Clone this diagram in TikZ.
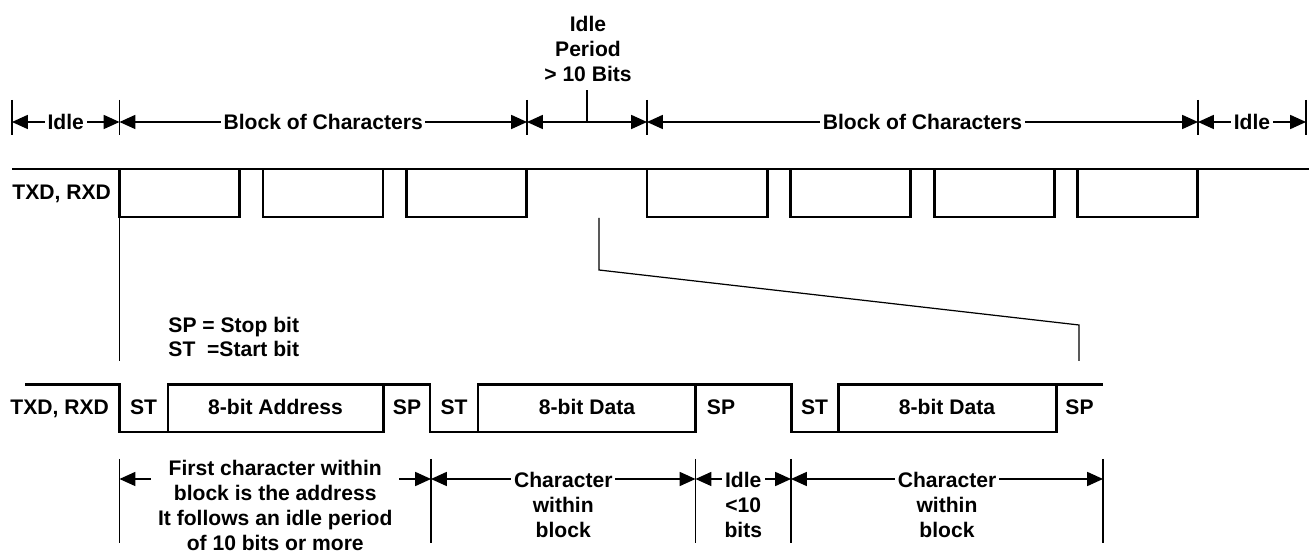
\documentclass[tikz,border=0pt]{standalone}
\usepackage{fontspec}
\setmainfont{Liberation Sans}
\usetikzlibrary{arrows.meta}
\tikzset{
  dimline/.style={line width=0.7pt, <->, >={Triangle[length=9pt,width=8pt]}},
  tickmark/.style={line width=1.1pt},
  sig/.style={line width=1.7pt},
  thinsig/.style={line width=0.7pt},
  lbl/.style={font=\fontsize{12}{14.2}\selectfont\bfseries, inner sep=1.5pt, fill=white, align=center},
}
\begin{document}
\begin{tikzpicture}[x=0.02cm, y=-0.02cm]
    \useasboundingbox (0,0) rectangle (1309,553);

    % top dimensions
    \foreach \n/\x in {a/12, b/119.5, c/527, d/647, e/1198, f/1306} {
      \draw[tickmark] (\x,100) -- (\x,135);
      \coordinate (top\n) at (\x,122);
    }
    \draw[dimline] (topa) -- (topb) node[lbl, midway] (idle1) {Idle};
    \draw[dimline] (topb) -- (topc) node[lbl, midway] (block1) {Block of Characters};
    \draw[dimline] (topc) -- (topd) coordinate[midway] (gapmid);
    \draw[dimline] (topd) -- (tope) node[lbl, midway] (block2) {Block of Characters};
    \draw[dimline] (tope) -- (topf) node[lbl, midway] (idle2) {Idle};
    \draw[tickmark] (gapmid) -- ++(0,-32) coordinate (gaptop);
    \node[lbl, anchor=north] (gaplbl) at (588,13.5) {Idle\\Period\\> 10 Bits};

    % top waveform
    \node[lbl, anchor=base west] (topsig) at (9.5,200) {TXD, RXD};
    \draw[thinsig] (12,169) -- (1309,169);
    \foreach \x in {119.5, 263, 406.5, 647, 790.5, 934, 1077.5}
      \draw[sig] (\x,169) -- (\x,217) -- (\x+120,217) -- (\x+120,169);

    % zoom lines
    \draw[thinsig] (119.5,217) -- (119.5,361);
    \draw[thinsig] (599,218) -- (599,270) -- (1079,325) -- (1079,361);

    \node[lbl, anchor=base west] (legend1) at (165.5,333) {SP = Stop bit};
    \node[lbl, anchor=base west] (legend2) at (165.5,357) {ST\ \ =Start bit};

    % bottom waveform
    \draw[sig] (25,384.5) -- (119.5,384.5) -- (119.5,432) -- (383.5,432) -- (383.5,384.5)
      -- (430,384.5) -- (430,432) -- (695.5,432) -- (695.5,384.5) -- (791,384.5)
      -- (791,432) -- (1056,432) -- (1056,384.5) -- (1103,384.5);
    \foreach \a/\b in {168/383.5, 478/695.5, 838/1056}
      \draw[sig] (\a,432) -- (\a,384.5) -- (\b,384.5);

    \node[lbl, anchor=base west] (botsig) at (7.5,415) {TXD, RXD};
    \node[lbl, anchor=base] (st1) at (143.5,415) {ST};
    \node[lbl, anchor=base] (addr) at (275.5,415) {8-bit Address};
    \node[lbl, anchor=base] (sp1) at (407,415) {SP};
    \node[lbl, anchor=base] (st2) at (454,415) {ST};
    \node[lbl, anchor=base] (data1) at (587,415) {8-bit Data};
    \node[lbl, anchor=base] (sp2) at (721,415) {SP};
    \node[lbl, anchor=base] (st3) at (814.5,415) {ST};
    \node[lbl, anchor=base] (data2) at (947,415) {8-bit Data};
    \node[lbl, anchor=base] (sp3) at (1079.5,415) {SP};

    % bottom dimensions
    \foreach \n/\x in {a/119.5, b/431, c/695.5, d/791, e/1103} {
      \draw[tickmark] (\x,459) -- (\x,543);
      \coordinate (bot\n) at (\x,479);
    }
    \draw[dimline] (bota) -- (botb);
    \draw[dimline] (botb) -- (botc);
    \draw[dimline] (botc) -- (botd);
    \draw[dimline] (botd) -- (bote);
    \node[lbl, anchor=north, inner xsep=4pt] (firstchar) at (275.25,457) {First character within\\block is the address\\It follows an idle period\\of 10 bits or more};
    \node[lbl, anchor=north] (char1) at (563.25,469.5) {Character\\within\\block};
    \node[lbl, anchor=north] (idle3) at (743.25,469.5) {Idle\\<10\\bits};
    \node[lbl, anchor=north] (char2) at (947,469.5) {Character\\within\\block};
\end{tikzpicture}
\end{document}
